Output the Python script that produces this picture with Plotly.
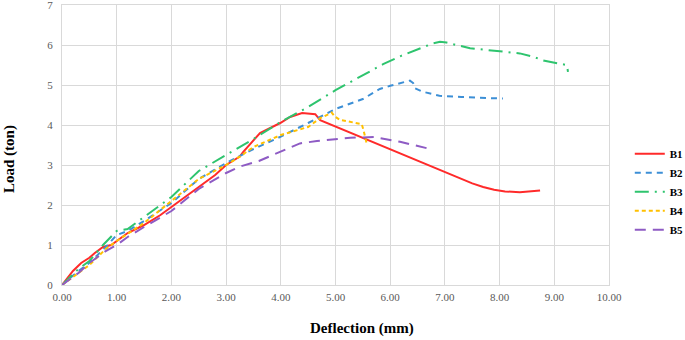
import plotly.graph_objects as go

b1_x = [0, 0.2, 0.35, 0.5, 0.6, 0.75, 0.9, 1.0, 1.2, 1.5, 1.8, 2.0, 2.3, 2.5, 2.8, 3.0, 3.25, 3.31, 3.62, 3.99, 4.17, 4.39, 4.63, 4.72, 5.0, 5.5, 5.81, 6.5, 7.0, 7.3, 7.5, 7.7, 7.9, 8.1, 8.37, 8.74]
b1_y = [0, 0.35, 0.55, 0.68, 0.8, 0.95, 1.0, 1.1, 1.3, 1.5, 1.75, 1.95, 2.25, 2.45, 2.75, 3.0, 3.21, 3.32, 3.8, 4.05, 4.2, 4.3, 4.27, 4.12, 3.96, 3.68, 3.5, 3.11, 2.83, 2.65, 2.54, 2.45, 2.38, 2.34, 2.32, 2.36]

b2_x = [0, 0.3, 0.5, 0.8, 1.0, 1.2, 1.5, 2.0, 2.5, 3.0, 3.5, 4.0, 4.5, 5.0, 5.5, 5.81, 6.0, 6.36, 6.42, 6.45, 6.6, 6.9, 7.3, 8.06]
b2_y = [0, 0.35, 0.55, 0.95, 1.25, 1.35, 1.6, 2.05, 2.65, 3.05, 3.4, 3.71, 4.05, 4.4, 4.65, 4.9, 4.98, 5.11, 5.05, 4.92, 4.83, 4.73, 4.7, 4.66]

b3_x = [0, 0.3, 0.5, 0.75, 1.0, 1.2, 1.5, 1.8, 2.0, 2.5, 3.0, 3.5, 4.0, 4.5, 5.0, 5.5, 5.87, 6.2, 6.5, 6.78, 6.91, 7.03, 7.46, 7.88, 8.37, 8.61, 8.8, 9.23, 9.25]
b3_y = [0, 0.4, 0.6, 1.0, 1.35, 1.4, 1.7, 2.0, 2.2, 2.85, 3.25, 3.65, 4.08, 4.45, 4.87, 5.25, 5.52, 5.73, 5.88, 6.04, 6.08, 6.06, 5.92, 5.86, 5.79, 5.71, 5.61, 5.5, 5.33]

b4_x = [0, 0.3, 0.5, 0.8, 1.0, 1.5, 2.0, 2.5, 3.0, 3.25, 3.5, 4.0, 4.5, 4.72, 4.93, 4.99, 5.08, 5.48, 5.51, 5.57]
b4_y = [0, 0.3, 0.5, 0.9, 1.1, 1.55, 2.1, 2.65, 3.0, 3.21, 3.45, 3.75, 3.95, 4.17, 4.31, 4.21, 4.13, 4.02, 3.88, 3.54]

b5_x = [0, 0.3, 0.5, 0.8, 1.0, 1.2, 1.5, 2.0, 2.5, 3.0, 3.25, 3.6, 3.92, 4.35, 4.66, 5.27, 5.7, 6.18, 6.67]
b5_y = [0, 0.3, 0.55, 0.85, 1.0, 1.2, 1.45, 1.85, 2.4, 2.8, 2.96, 3.1, 3.29, 3.54, 3.6, 3.68, 3.7, 3.58, 3.42]

x_ticks = [0, 1, 2, 3, 4, 5, 6, 7, 8, 9, 10]
y_ticks = [0, 1, 2, 3, 4, 5, 6, 7]

series = [
    ("B1", b1_x, b1_y, "#FF2A2A", "solid"),
    ("B2", b2_x, b2_y, "#3C8FD6", "6px,5px"),
    ("B3", b3_x, b3_y, "#2EC46E", "14px,6px,2px,6px"),
    ("B4", b4_x, b4_y, "#FFC000", "4px,3px"),
    ("B5", b5_x, b5_y, "#8E5BC4", "11px,7px"),
]

fig = go.Figure()
for name, xs, ys, col, dash in series:
    fig.add_trace(go.Scatter(x=xs, y=ys, mode="lines", name=name,
                             line=dict(color=col, width=2, dash=dash)))

grid = "#D9D9D9"
fig.update_layout(
    width=685, height=340,
    margin=dict(l=62, r=76, t=5, b=55, autoexpand=False),
    paper_bgcolor="white", plot_bgcolor="white",
    font=dict(family="Liberation Serif", color="#595959", size=11),
    legend=dict(x=1.038, y=0.333, xanchor="left", yanchor="middle",
                font=dict(family="Liberation Serif", size=11, color="#000000", weight="bold"),
                itemwidth=30, tracegroupgap=0, bgcolor="rgba(0,0,0,0)"),
    showlegend=True,
    annotations=[
        dict(text="<b>Deflection (mm)</b>", xref="paper", yref="paper",
             x=(362 - 62) / 547, y=-(328 - 285) / 280, xanchor="center", yanchor="middle",
             showarrow=False, font=dict(family="Liberation Serif", size=15, color="#000000")),
        dict(text="<b>Load (ton)</b>", xref="paper", yref="paper", textangle=-90,
             x=-(62 - 9) / 547, y=(285 - 159) / 280, xanchor="center", yanchor="middle",
             showarrow=False, font=dict(family="Liberation Serif", size=15, color="#000000")),
    ],
)
fig.update_xaxes(range=[0, 10], tickvals=x_ticks, ticktext=[f"{v:.2f}" for v in x_ticks],
                 showgrid=True, gridcolor=grid, showline=True, linecolor=grid, mirror=True,
                 zeroline=False, ticks="", automargin=False, ticklabelstandoff=2,
                 ticklabeloverflow="allow")
fig.update_yaxes(range=[0, 7], tickvals=y_ticks, showgrid=True, gridcolor=grid,
                 showline=True, linecolor=grid, mirror=True, zeroline=False, ticks="",
                 automargin=False, ticklabelstandoff=6, ticklabeloverflow="allow")
fig.write_html("out.html", config={"displayModeBar": False},
               post_script="document.body.style.margin='0';")
